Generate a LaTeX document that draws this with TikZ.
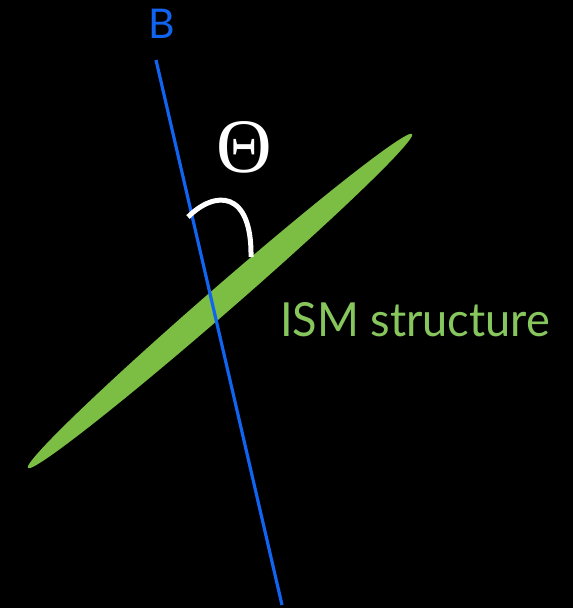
\documentclass[tikz,border=0pt]{standalone}
\usepackage{fontspec}
\setmainfont{Lato}
\newfontfamily\thetafont{Liberation Serif}
\definecolor{bline}{RGB}{16,100,240}
\definecolor{ismgreen}{RGB}{123,190,67}
\definecolor{ismtext}{RGB}{134,198,92}
\tikzset{
  field/.style={draw=bline, line width=3.2pt},
  angarc/.style={draw=white, line width=5pt},
  lbl/.style={inner sep=0pt, outer sep=0pt},
}
\begin{document}
\begin{tikzpicture}[x=1pt,y=1pt]
\fill[black] (0,0) rectangle (573,608);
\useasboundingbox (0,0) rectangle (573,608);
% ISM structure ellipse
\fill[ismgreen, rotate around={41:(220,307)}] (220,307) ellipse (254.5 and 13);
% magnetic field line
\coordinate (btop) at (156,548);
\coordinate (bbot) at (282,3);
\draw[field] (btop) -- (bbot);
% angle arc
\coordinate (a1) at (188,391);
\coordinate (a2) at (251,351);
\draw[angarc] (a1) .. controls (215,418) and (252,418) .. (a2);
% labels
\node[lbl, text=bline, font=\fontsize{41}{41}\selectfont] (B) at (162,584) {B};
\node[lbl, text=white, font=\thetafont\fontsize{77}{77}\selectfont] (theta) at (244,461) {Θ};
\node[lbl, anchor=base west, text=ismtext, xscale=0.96, transform shape, font=\fontsize{47}{47}\selectfont] (ism) at (280,271) {ISM structure};
\end{tikzpicture}
\end{document}
